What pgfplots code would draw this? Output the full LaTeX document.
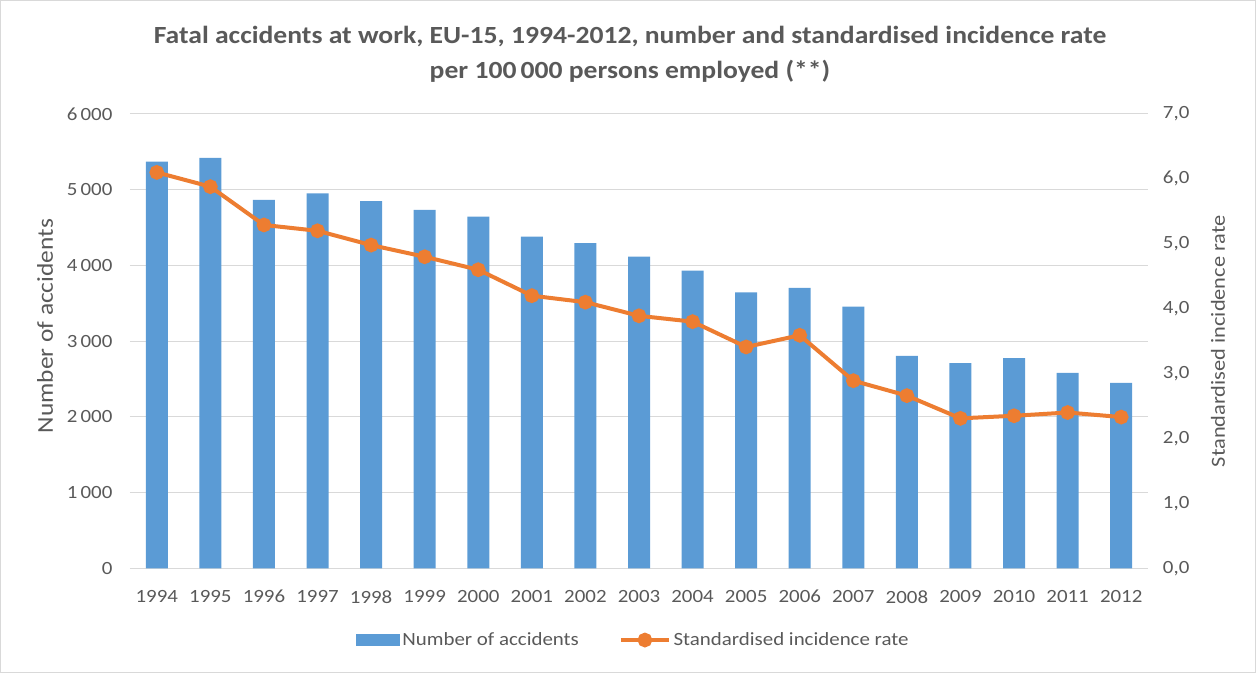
\documentclass[border=0pt]{standalone}
\usepackage{fontspec}
\setmainfont{Carlito}[FakeStretch=1.12]
\usepackage{pgfplots}
\usepackage{pgfplotstable}
\pgfplotsset{compat=1.18}
\definecolor{barblue}{HTML}{5B9BD5}
\definecolor{lineorange}{HTML}{ED7D31}
\definecolor{txtgray}{HTML}{595959}
\definecolor{gridgray}{HTML}{D9D9D9}

\pgfplotstableread{
x year acc rate
0 1994 5370 6.10
1 1995 5420 5.88
2 1996 4865 5.29
3 1997 4950 5.20
4 1998 4850 4.98
5 1999 4735 4.80
6 2000 4645 4.60
7 2001 4380 4.20
8 2002 4295 4.10
9 2003 4115 3.89
10 2004 3930 3.80
11 2005 3645 3.41
12 2006 3705 3.59
13 2007 3455 2.89
14 2008 2805 2.66
15 2009 2710 2.31
16 2010 2775 2.35
17 2011 2580 2.40
18 2012 2450 2.33
}\datatable

\begin{document}
\begin{tikzpicture}
\path[use as bounding box] (-97.5pt,-78.5pt) rectangle (844.5pt,426.2pt);
\draw[gridgray, line width=0.75pt] (-96.9pt,-77.9pt) rectangle (843.9pt,425.6pt);
\begin{axis}[
  scale only axis, width=763.5pt, height=340.7pt,
  at={(0pt,0pt)}, anchor=south west,
  xmin=-0.5, xmax=18.5, ymin=0, ymax=6000,
  xtick=data,
  xticklabels from table={\datatable}{year},
  ytick={0,1000,2000,3000,4000,5000,6000},
  ymajorgrids, grid style={gridgray, line width=0.75pt},
  axis line style={draw=none}, tick style={draw=none},
  /pgf/number format/.cd, 1000 sep={\,}, assume math mode=true, /pgfplots/.cd,
  ticklabel style={font=\fontsize{14}{16}\selectfont, text=txtgray},
  yticklabel style={anchor=east, inner sep=0pt, xshift=-13pt},
  xticklabel style={anchor=north, inner sep=0pt, yshift=-16.3pt},
  ylabel={Number of accidents},
  ylabel style={at={(axis description cs:-0.0835,0.533)}, anchor=center, rotate=0, font=\fontsize{17}{19}\selectfont, text=txtgray},
  legend columns=2,
  legend style={at={(axis description cs:0.4946,-0.158)}, anchor=center, draw=none, fill=none,
    font=\fontsize{14}{16}\selectfont, text=txtgray,
    /tikz/every even column/.append style={column sep=28pt},
    inner sep=0pt, nodes={inner sep=2pt}},
]
\addplot[ybar, bar width=16.5pt, fill=barblue, draw=none,
  legend image code/.code={\fill[barblue] (0pt,-4.5pt) rectangle (33pt,4.5pt);}]
  table[x=x, y=acc]{\datatable};
\addlegendentry{Number of accidents}
\addlegendimage{lineorange, line width=3pt,
  legend image code/.code={\draw[lineorange, line width=3pt] (0pt,0pt) -- (36pt,0pt);
    \fill[lineorange] (18pt,0pt) circle (4pt);}}
\addlegendentry{Standardised incidence rate}
\end{axis}
\begin{axis}[
  scale only axis, width=763.5pt, height=340.7pt,
  at={(0pt,0pt)}, anchor=south west,
  xmin=-0.5, xmax=18.5, ymin=0, ymax=7,
  hide x axis,
  axis y line*=right,
  ytick={0,1,2,3,4,5,6,7},
  axis line style={draw=none}, tick style={draw=none},
  /pgf/number format/.cd, fixed, fixed zerofill, precision=1, use comma, assume math mode=true, /pgfplots/.cd,
  yticklabel style={font=\fontsize{14}{16}\selectfont, text=txtgray, anchor=west, inner sep=0pt, xshift=11pt},
  ylabel={Standardised incidence rate},
  ylabel style={at={(axis description cs:1.0688,0.5)}, anchor=center, rotate=0, font=\fontsize{15}{17}\selectfont, text=txtgray},
]
\addplot[lineorange, line width=3pt, mark=*, mark size=4pt,
  mark options={fill=lineorange, draw=none}]
  table[x=x, y=rate]{\datatable};
\end{axis}
\node[font=\bfseries\fontsize{18.5}{21}\selectfont, text=txtgray] at (375pt,398.5pt) {Fatal accidents at work, EU-15, 1994-2012, number and standardised incidence rate};
\node[font=\bfseries\fontsize{18.5}{21}\selectfont, text=txtgray] at (375pt,372.7pt) {per 100\,000 persons employed (**)};
\end{tikzpicture}
\end{document}
